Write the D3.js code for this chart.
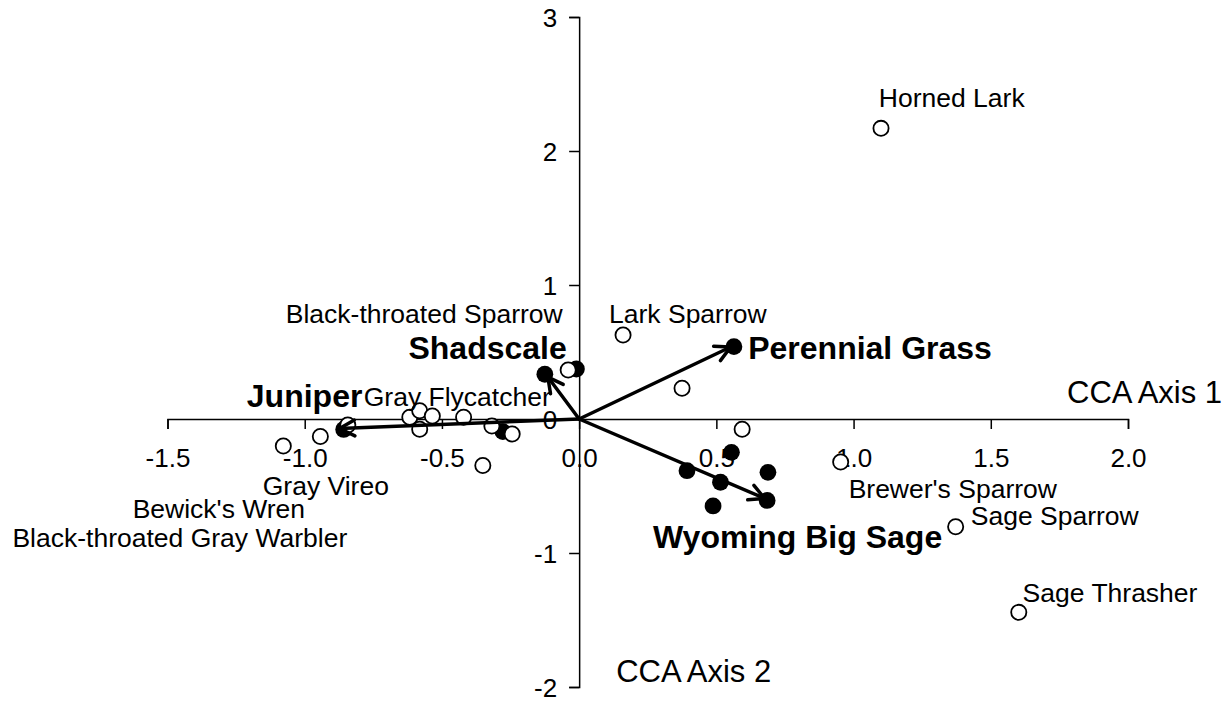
<!DOCTYPE html>
<html>
<head>
<meta charset="utf-8">
<script src="https://cdn.jsdelivr.net/npm/d3@7"></script>
<style>
  html, body { margin: 0; padding: 0; background: #fff; }
  svg { display: block; }
  text { font-family: "Liberation Sans", Arial, Helvetica, sans-serif; fill: #000; }
</style>
</head>
<body>
<svg id="chart" width="1232" height="706"></svg>
<script>
// ---------------- DATA ----------------
// Species scores (open circles)
const speciesX = [1.100, 0.160, 0.375, -0.040, 0.594, 0.953, 1.372, 1.602, -1.078, -0.943,
                  -0.843, -0.617, -0.581, -0.535, -0.581, -0.421, -0.318, -0.244, -0.351];
const speciesY = [2.169, 0.627, 0.229, 0.366, -0.077, -0.321, -0.804, -1.443, -0.201, -0.131,
                  -0.045, 0.013, 0.062, 0.022, -0.077, 0.013, -0.052, -0.112, -0.347];

// Site scores (filled circles)
const siteX = [-0.125, -0.010, 0.564, -0.858, -0.278, 0.555, 0.688, 0.393, 0.515, 0.685, 0.488];
const siteY = [0.334, 0.373, 0.540, -0.078, -0.094, -0.249, -0.398, -0.386, -0.472, -0.608, -0.649];

// Environmental biplot vectors
const envNames = ["Juniper", "Shadscale", "Perennial Grass", "Wyoming Big Sage"];
const envX = [-0.873, -0.114, 0.552, 0.676];
const envY = [-0.071, 0.313, 0.537, -0.593];

// Species labels (anchor in axis units)
const speciesLabels = ["Horned Lark", "Lark Sparrow", "Black-throated Sparrow", "Gray Flycatcher",
  "Gray Vireo", "Bewick's Wren", "Black-throated Gray Warbler", "Brewer's Sparrow",
  "Sage Sparrow", "Sage Thrasher"];
const speciesLabelX = [1.092, 0.109, -0.060, -0.785, -1.153, -1.627, -2.065, 0.982, 1.427, 1.616];
const speciesLabelY = [2.328, 0.716, 0.713, 0.097, -0.567, -0.739, -0.955, -0.590, -0.791, -1.366];
const speciesLabelAnchor = ["start", "start", "end", "start", "start", "start", "start", "start", "start", "start"];

// Environmental labels (anchor in axis units)
const envLabelX = [-1.211, -0.045, 0.616, 0.269];
const envLabelY = [0.090, 0.448, 0.448, -0.963];
const envLabelAnchor = ["start", "end", "start", "start"];

// Axes
const xTicks = [-1.5, -1.0, -0.5, 0.0, 0.5, 1.0, 1.5, 2.0];
const xTickLabels = ["-1.5", "-1.0", "-0.5", "0.0", "0.5", "1.0", "1.5", "2.0"];
const yTicks = [3, 2, 1, 0, -1, -2];
const yTickLabels = ["3", "2", "1", "0", "-1", "-2"];
const xTitle = "CCA Axis 1";
const yTitle = "CCA Axis 2";

// ---------------- CHART ----------------
const svg = d3.select("#chart");
const x = d3.scaleLinear().domain([-1.5, 2.0]).range([167.5, 1128]);
const y = d3.scaleLinear().domain([-2, 3]).range([687, 17]);
const FONT = '"Liberation Sans", Arial, sans-serif';

// X axis (at y = 0)
const xAxis = d3.axisBottom(x)
  .tickValues(xTicks)
  .tickFormat((d, i) => xTickLabels[i])
  .tickSizeInner(10).tickSizeOuter(10);
const gx = svg.append("g").attr("transform", `translate(0,${y(0)})`).call(xAxis);
gx.select(".domain").attr("stroke", "#000").attr("stroke-width", 1.5);
gx.selectAll(".tick line").attr("stroke", "#000").attr("stroke-width", 1.5);
gx.selectAll(".tick text")
  .attr("y", 48).attr("dy", 0)
  .style("font-size", "26px").style("font-family", FONT);

// Y axis (at x = 0)
const yAxis = d3.axisLeft(y)
  .tickValues(yTicks)
  .tickFormat((d, i) => yTickLabels[i])
  .tickSizeInner(10).tickSizeOuter(10);
const gy = svg.append("g").attr("transform", `translate(${x(0)},0)`).call(yAxis);
gy.select(".domain").attr("stroke", "#000").attr("stroke-width", 1.5);
gy.selectAll(".tick line").attr("stroke", "#000").attr("stroke-width", 1.5);
gy.selectAll(".tick text")
  .attr("x", -22).attr("dy", "0.35em")
  .style("font-size", "26px").style("font-family", FONT);

// Axis titles
svg.append("text").attr("x", x(2.0) - 61).attr("y", y(0) - 16)
  .style("font-size", "31px").text(xTitle);
svg.append("text").attr("x", x(0) + 37).attr("y", y(-2) - 5)
  .style("font-size", "31px").text(yTitle);

// Site points (filled)
const sites = siteX.map((v, i) => ({ x: v, y: siteY[i] }));
svg.append("g").selectAll("circle").data(sites).join("circle")
  .attr("cx", d => x(d.x)).attr("cy", d => y(d.y)).attr("r", 8.4)
  .attr("fill", "#000");

// Species points (open)
const species = speciesX.map((v, i) => ({ x: v, y: speciesY[i] }));
svg.append("g").selectAll("circle").data(species).join("circle")
  .attr("cx", d => x(d.x)).attr("cy", d => y(d.y)).attr("r", 7.6)
  .attr("fill", "#fff").attr("stroke", "#000").attr("stroke-width", 1.8);

// Environmental arrows
const env = envNames.map((n, i) => ({ name: n, x: envX[i], y: envY[i] }));
const ga = svg.append("g").attr("stroke", "#000").attr("stroke-width", 3.5)
  .attr("stroke-linecap", "round").attr("fill", "none");
env.forEach(d => {
  const x0 = x(0), y0 = y(0), x1 = x(d.x), y1 = y(d.y);
  ga.append("line").attr("x1", x0).attr("y1", y0).attr("x2", x1).attr("y2", y1);
  const ang = Math.atan2(y1 - y0, x1 - x0);
  const L = 17, spread = Math.PI / 6.5;
  [1, -1].forEach(s => {
    ga.append("line")
      .attr("x1", x1).attr("y1", y1)
      .attr("x2", x1 - L * Math.cos(ang + s * spread))
      .attr("y2", y1 - L * Math.sin(ang + s * spread));
  });
});

// Species labels
svg.append("g").selectAll("text").data(speciesLabels).join("text")
  .attr("x", (d, i) => x(speciesLabelX[i]))
  .attr("y", (d, i) => y(speciesLabelY[i]))
  .attr("text-anchor", (d, i) => speciesLabelAnchor[i])
  .style("font-size", "26.5px")
  .text(d => d);

// Environmental labels
svg.append("g").selectAll("text").data(env).join("text")
  .attr("x", (d, i) => x(envLabelX[i]))
  .attr("y", (d, i) => y(envLabelY[i]))
  .attr("text-anchor", (d, i) => envLabelAnchor[i])
  .style("font-size", "32px").style("font-weight", "bold")
  .text(d => d.name);
</script>
</body>
</html>
